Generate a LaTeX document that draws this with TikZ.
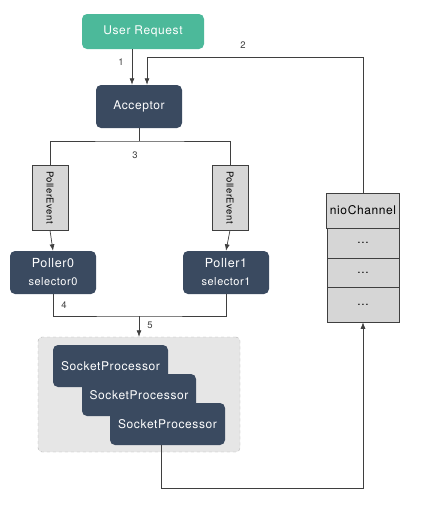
\documentclass[tikz,border=0pt]{standalone}
\usepackage{fontspec}
\setmainfont[LetterSpace=5]{TeX Gyre Heros}
\usepackage{tikz}
\usetikzlibrary{arrows.meta, positioning}
\usetikzlibrary{calc}

\definecolor{reqgreen}{HTML}{4CB99A}
\definecolor{navy}{HTML}{3A4A60}
\definecolor{boxgray}{HTML}{D6D6D6}
\definecolor{grpgray}{HTML}{E6E6E6}
\definecolor{linegray}{HTML}{3F3F3F}

\begin{document}
\begin{tikzpicture}[
        x=1pt, y=-1pt,
        every node/.style={font=\fontsize{12}{13}\selectfont},
        darkbox/.style={rectangle, rounded corners=5pt, fill=navy, text=white, align=center},
        eventbox/.style={rectangle, draw=linegray, fill=boxgray, minimum width=36pt, minimum height=65pt, line width=0.6pt},
        chanbox/.style={rectangle, draw=linegray, fill=boxgray, minimum width=72pt, line width=0.6pt},
        num/.style={font=\fontsize{9.5}{10}\selectfont, text=linegray},
        conn/.style={draw=linegray, line width=0.7pt},
        arr/.style={conn, -{Latex[length=6.5pt, width=5pt]}}
    ]
        \useasboundingbox (0,0) rectangle (423,509);

        % Nút chính
        \node [darkbox, fill=reqgreen, minimum width=122pt, minimum height=35pt] (req) at (143,31.5) {User Request};
        \node [darkbox, minimum width=86pt, minimum height=43pt] (acc) at (139,106.5) {Acceptor};

        \node [eventbox] (pe0) at (50,197.5) {};
        \node [rotate=-90, font=\fontsize{9.5}{10}\selectfont] at (pe0) {PollerEvent};
        \node [eventbox] (pe1) at (230,197.5) {};
        \node [rotate=-90, font=\fontsize{9.5}{10}\selectfont] at (pe1) {PollerEvent};

        \node [darkbox, minimum width=86pt, minimum height=43pt] (p0) at (53,272.5) {\fontsize{12.5}{13}\selectfont Poller0\\[5pt]\fontsize{11}{12}\selectfont selector0};
        \node [darkbox, minimum width=86pt, minimum height=43pt] (p1) at (226,272.5) {\fontsize{12.5}{13}\selectfont Poller1\\[5pt]\fontsize{11}{12}\selectfont selector1};

        % Nhóm SocketProcessor
        \node [rectangle, rounded corners=4pt, draw=gray!60, dashed, fill=grpgray, minimum width=202pt, minimum height=115pt] (grp) at (139,394.5) {};
        \node [darkbox, minimum width=115pt, minimum height=42pt] (sp0) at (110.5,366) {SocketProcessor};
        \node [darkbox, minimum width=114pt, minimum height=42pt] (sp1) at (139,395) {SocketProcessor};
        \node [darkbox, minimum width=115pt, minimum height=42pt] (sp2) at (167.5,424) {SocketProcessor};

        % nioChannel
        \node [chanbox, minimum height=35pt] (ch0) at (363,210.5) {nioChannel};
        \node [chanbox, minimum height=30pt] (ch1) at (363,243) {...};
        \node [chanbox, minimum height=29pt] (ch2) at (363,272.5) {...};
        \node [chanbox, minimum height=35pt] (ch3) at (363,304.5) {...};

        % Các điểm nối
        \coordinate (in2) at (147,57);
        \coordinate (split3) at (139,141);
        \coordinate (join4) at (139,316);
        \coordinate (turn6) at (161,488);

        % Liên kết
        \draw[arr] (req.south -| 132,0) -- (acc.north -| 132,0);
        \draw[arr] (ch0.north) |- (in2) -- (in2 |- acc.north);
        \draw[conn] (acc.south) -- (split3);
        \draw[conn] (pe0.north) |- (split3) -| (pe1.north);
        \draw[arr] (pe0.south) -- (p0.north);
        \draw[arr] (pe1.south) -- (p1.north);
        \draw[conn] (p0.south) |- (join4) -| (p1.south);
        \draw[arr] (join4) -- (grp.north);
        \draw[arr] (sp2.south -| turn6) -- (turn6) -| (ch3.south);

        % Số thứ tự
        \node [num] (n1) at (121,62) {1};
        \node [num] (n2) at (243,45) {2};
        \node [num] (n3) at (135,155) {3};
        \node [num] (n4) at (64,305) {4};
        \node [num] (n5) at (150,325) {5};
    \end{tikzpicture}
\end{document}
